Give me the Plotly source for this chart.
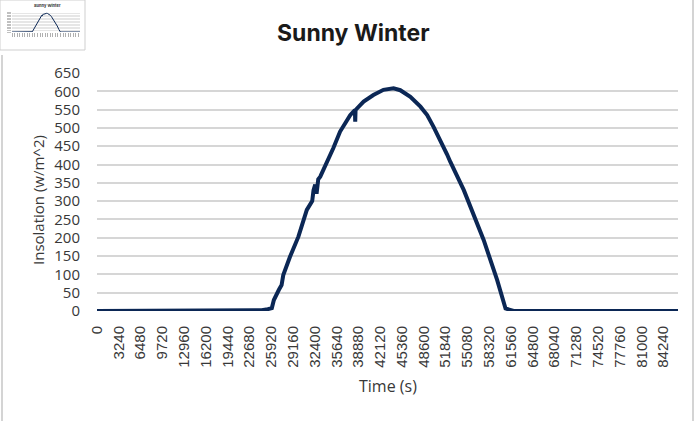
import plotly.graph_objects as go

# ---- data ----
time_s = [0, 23400, 24500, 25400, 26000, 26300, 26700, 27050, 27450, 27700,
          28700, 29950, 31200, 31700, 32000, 32200, 32450, 32650, 32900, 33200,
          34150, 34700, 35150, 36150, 37650, 38350, 38400, 38450, 39650, 41100,
          42600, 43600, 44100, 45100, 46600, 48100, 49100, 50050, 51050, 52050,
          52550, 54550, 57500, 59500, 60750, 61500, 61950, 86400]
insolation = [0, 0, 2, 5, 8, 30, 48, 58, 71, 98,
              148, 203, 276, 290, 300, 330, 345, 320, 360, 367,
              403, 425, 445, 490, 535, 549, 517, 549, 572, 590,
              604, 607, 608, 603, 585, 558, 535, 503, 467, 428,
              407, 330, 194, 85, 7, 2, 0, 0]

x_tick_values = list(range(0, 86400, 3240))
x_tick_labels = [str(v) for v in x_tick_values]
y_tick_values = list(range(0, 651, 50))

title_text = "Sunny Winter"
x_title = "Time (s)"
y_title = "Insolation (w/m^2)"

W, H = 700, 421
LINE = "#0b2755"
TXT = "#383838"

def px(x):
    return x / W

def py(y):
    return 1 - y / H

fig = go.Figure()
fig.add_trace(go.Scatter(x=time_s, y=insolation, mode="lines",
                         line=dict(color=LINE, width=4),
                         xaxis="x", yaxis="y", showlegend=False,
                         hoverinfo="skip"))
# thumbnail copy of the chart (top-left corner)
fig.add_trace(go.Scatter(x=time_s, y=insolation, mode="lines",
                         line=dict(color=LINE, width=1),
                         xaxis="x2", yaxis="y2", showlegend=False,
                         hoverinfo="skip"))

fig.update_layout(
    width=W, height=H,
    margin=dict(l=0, r=0, t=0, b=0),
    paper_bgcolor="white", plot_bgcolor="white",
    xaxis=dict(domain=[px(97), px(678)], range=[0, 86400],
               tickvals=x_tick_values, ticktext=x_tick_labels,
               tickangle=-90, showgrid=False, zeroline=False, showline=False,
               ticks="", ticklabelstandoff=11, automargin=False,
               tickfont=dict(family="Liberation Sans, Arial", size=15, color=TXT)),
    yaxis=dict(domain=[py(311), py(73)], range=[0, 650],
               tickvals=y_tick_values, showgrid=True,
               gridcolor="#d6d6d6", gridwidth=1.5, zeroline=False,
               showline=False, ticks="", ticklabelstandoff=16,
               automargin=False,
               tickfont=dict(family="Open Sans", size=15, color=TXT)),
    xaxis2=dict(domain=[px(12), px(80)], range=[0, 86400], anchor="y2",
                tickvals=x_tick_values, showticklabels=False,
                showgrid=False, zeroline=False,
                ticks="outside", ticklen=4, tickcolor="#b0b0b0", tickwidth=0.6,
                automargin=False),
    yaxis2=dict(domain=[py(32), py(12)], range=[0, 650], anchor="x2",
                tickvals=y_tick_values, showgrid=True, showticklabels=False,
                gridcolor="#e6e6e6", gridwidth=0.5, zeroline=False,
                ticks="outside", ticklen=4, tickcolor="#c0c0c0", tickwidth=0.6,
                automargin=False),
    shapes=[
        dict(type="rect", xref="paper", yref="paper",
             x0=0, x1=px(85), y0=py(50), y1=1,
             line=dict(color="#cfcfcf", width=1)),
        dict(type="line", xref="paper", yref="paper",
             x0=px(2), x1=px(2), y0=0, y1=py(55),
             line=dict(color="#d4d4d4", width=2)),
        dict(type="line", xref="paper", yref="paper",
             x0=px(693), x1=px(693), y0=0, y1=1,
             line=dict(color="#d4d4d4", width=2)),
    ],
    annotations=[
        dict(text="<b>" + title_text + "</b>", xref="paper", yref="paper",
             x=px(353), y=py(33), showarrow=False,
             xanchor="center", yanchor="middle",
             font=dict(family="Inter", size=23, color="#1a1a1a")),
        dict(text=y_title, xref="paper", yref="paper",
             x=px(38), y=py(200), showarrow=False, textangle=-90,
             xanchor="center", yanchor="middle",
             font=dict(family="Open Sans", size=15, color=TXT)),
        dict(text=x_title, xref="paper", yref="paper",
             x=px(388), y=py(386), showarrow=False,
             xanchor="center", yanchor="middle",
             font=dict(family="Open Sans", size=16, color=TXT)),
        dict(text="<b>" + title_text + "</b>", xref="paper", yref="paper",
             x=px(47), y=py(5), showarrow=False,
             xanchor="center", yanchor="middle",
             font=dict(family="Inter", size=4, color="#333")),
    ],
)

fig.write_html("out.html", config={"displayModeBar": False},
               post_script="document.body.style.margin='0';")
